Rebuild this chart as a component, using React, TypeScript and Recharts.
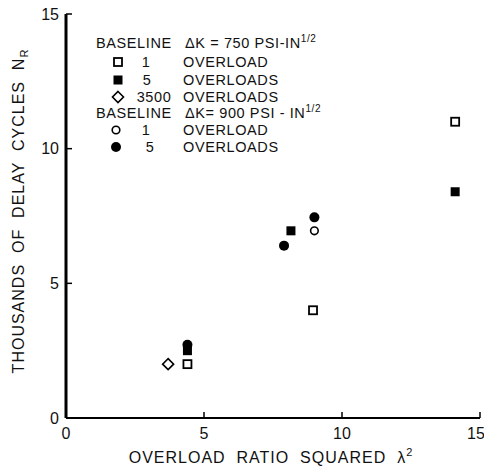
import React from 'react';
import { ScatterChart, Scatter, XAxis, YAxis, Customized } from 'recharts';

const FONT = '"Liberation Sans", Arial, sans-serif';

const xTicks = [0, 5, 10, 15];
const yTicks = [0, 5, 10, 15];

// baseline ΔK = 750 psi-in^1/2
const k750One = [
  { x: 4.4, y: 2.0 },
  { x: 8.95, y: 4.0 },
  { x: 14.1, y: 11.0 },
];
const k750Five = [
  { x: 4.4, y: 2.5 },
  { x: 8.15, y: 6.95 },
  { x: 14.1, y: 8.4 },
];
const k750Many = [{ x: 3.7, y: 2.0 }];

// baseline ΔK = 900 psi-in^1/2
const k900One = [{ x: 9.0, y: 6.95 }];
const k900Five = [
  { x: 4.4, y: 2.72 },
  { x: 7.9, y: 6.4 },
  { x: 9.0, y: 7.45 },
];

const OpenSquare = ({ cx, cy }: any) => (
  <rect x={cx - 4} y={cy - 4} width={8} height={8} fill="#fff" stroke="#000" strokeWidth={1.8} />
);
const FilledSquare = ({ cx, cy }: any) => (
  <rect x={cx - 4.5} y={cy - 4.5} width={9} height={9} fill="#000" />
);
const OpenDiamond = ({ cx, cy }: any) => (
  <path d={`M${cx},${cy - 5.5}L${cx + 5.5},${cy}L${cx},${cy + 5.5}L${cx - 5.5},${cy}Z`} fill="#fff" stroke="#000" strokeWidth={1.6} />
);
const OpenCircle = ({ cx, cy }: any) => (
  <circle cx={cx} cy={cy} r={3.8} fill="#fff" stroke="#000" strokeWidth={1.6} />
);
const FilledCircle = ({ cx, cy }: any) => <circle cx={cx} cy={cy} r={5} fill="#000" />;

function Texts() {
  const t = { fontFamily: FONT, fill: '#111', style: { whiteSpace: 'pre' as const } };
  const leg = { ...t, fontSize: 14.5, letterSpacing: 0.6 };
  return (
    <g>
      {/* legend, first baseline */}
      <text {...leg} x={96} y={48}>BASELINE</text>
      <text {...leg} x={185} y={48}>
        ΔK = 750 PSI-IN<tspan dy={-6} fontSize={10}>1/2</tspan>
      </text>
      <OpenSquare cx={118} cy={62} />
      <text {...leg} x={146} y={67} textAnchor="middle">1</text>
      <text {...leg} x={183} y={67}>OVERLOAD</text>
      <FilledSquare cx={118} cy={80} />
      <text {...leg} x={147} y={85} textAnchor="middle">5</text>
      <text {...leg} x={183} y={85}>OVERLOADS</text>
      <OpenDiamond cx={118} cy={97} />
      <text {...leg} x={154} y={102} textAnchor="middle">3500</text>
      <text {...leg} x={183} y={102}>OVERLOADS</text>

      {/* legend, second baseline */}
      <text {...leg} x={96} y={118}>BASELINE</text>
      <text {...leg} x={185} y={118}>
        ΔK= 900 PSI - IN<tspan dy={-6} fontSize={10}>1/2</tspan>
      </text>
      <OpenCircle cx={116} cy={130} />
      <text {...leg} x={146} y={135} textAnchor="middle">1</text>
      <text {...leg} x={183} y={135}>OVERLOAD</text>
      <FilledCircle cx={116} cy={147} />
      <text {...leg} x={150} y={152} textAnchor="middle">5</text>
      <text {...leg} x={183} y={152}>OVERLOADS</text>

      {/* axis titles */}
      <text {...t} x={271} y={463} fontSize={16} letterSpacing={1} textAnchor="middle">
        OVERLOAD  RATIO  SQUARED  λ<tspan dy={-7} fontSize={11}>2</tspan>
      </text>
      <text {...t} transform="rotate(-90, 24, 211)" x={24} y={211} fontSize={16} letterSpacing={1} textAnchor="middle">
        THOUSANDS  OF  DELAY  CYCLES  N<tspan dy={4} fontSize={11}>R</tspan>
      </text>
    </g>
  );
}

export default function App() {
  const tick = { fontFamily: FONT, fontSize: 16, fill: '#111' };
  return (
    <div style={{ position: 'absolute', left: 0, top: 0, background: '#fff' }}>
      <ScatterChart width={484} height={470} margin={{ top: 14, right: 4, bottom: 0, left: 0 }}>
        <XAxis
          type="number"
          dataKey="x"
          domain={[0, 15]}
          ticks={xTicks}
          allowDataOverflow
          height={52}
          tick={tick}
          tickSize={-6}
          tickMargin={16}
          axisLine={{ stroke: '#000', strokeWidth: 2 }}
          tickLine={{ stroke: '#000', strokeWidth: 1.5 }}
        />
        <YAxis
          type="number"
          dataKey="y"
          domain={[0, 15]}
          ticks={yTicks}
          allowDataOverflow
          width={66}
          tick={tick}
          tickSize={-6}
          tickMargin={13}
          axisLine={{ stroke: '#000', strokeWidth: 3 }}
          tickLine={{ stroke: '#000', strokeWidth: 1.5 }}
        />
        <Scatter data={k750One} shape={OpenSquare} isAnimationActive={false} />
        <Scatter data={k750Five} shape={FilledSquare} isAnimationActive={false} />
        <Scatter data={k750Many} shape={OpenDiamond} isAnimationActive={false} />
        <Scatter data={k900One} shape={OpenCircle} isAnimationActive={false} />
        <Scatter data={k900Five} shape={FilledCircle} isAnimationActive={false} />
        <Customized component={Texts} />
      </ScatterChart>
    </div>
  );
}
